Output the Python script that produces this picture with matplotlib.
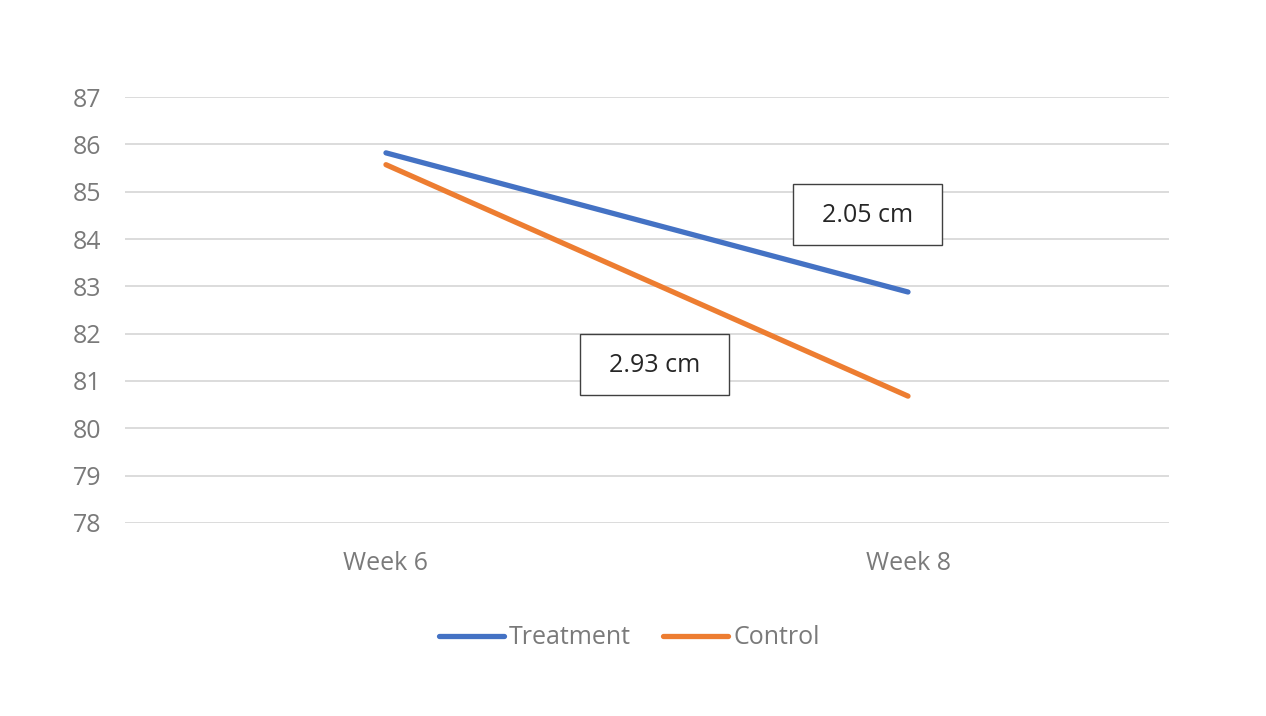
import matplotlib
matplotlib.use("Agg")
import matplotlib.pyplot as plt
from matplotlib.patches import Rectangle

# Datos del gráfico
semanas = ["Week 6", "Week 8"]
tratamiento = [85.82, 82.88]
control = [85.57, 80.68]
etiquetas = ["2.05 cm", "2.93 cm"]

gris = "#7a7a7a"
plt.rcParams['font.family'] = ['Open Sans', 'DejaVu Sans']

fig = plt.figure(figsize=(12.66, 7.16), dpi=100)
ax = fig.add_axes([0.0987, 0.2696, 0.8247, 0.5949])

x = range(len(semanas))
ax.plot(x, tratamiento, color="#4472C4", lw=3.8, label="Treatment", solid_capstyle="round")
ax.plot(x, control, color="#ED7D31", lw=3.8, label="Control", solid_capstyle="round")

ax.set_xlim(-0.5, 1.5)
ax.set_ylim(78, 87)
ax.set_yticks(range(78, 88))
ax.set_xticks(list(x))
ax.set_xticklabels(semanas)
ax.grid(axis="y", color="#d9d9d9", lw=1.3)
ax.set_axisbelow(True)
for s in ax.spines.values():
  s.set_visible(False)
ax.tick_params(length=0, labelsize=18, labelcolor=gris)
ax.tick_params(axis="y", pad=17)
ax.tick_params(axis="x", pad=20)

# Cuadros de texto con las diferencias (coordenadas de figura en píxeles)
cajas = [(793, 184, 149, 61), (580, 334, 149, 61)]
for (px, py, w, h), txt in zip(cajas, etiquetas):
  fig.patches.append(Rectangle((px / 1266, 1 - (py + h) / 716), w / 1266, h / 716,
                               transform=fig.transFigure, fill=True, facecolor="white",
                               edgecolor="#404040", lw=1.0))
  fig.text((px + w / 2) / 1266, 1 - (py + h / 2 + 1) / 716, txt, ha="center", va="center",
           fontsize=18, color="#262626")

leg = fig.legend(loc="center", bbox_to_anchor=(0.497, 1 - 638 / 716), ncol=2, frameon=False,
                 fontsize=18, handlelength=2.6, handletextpad=0.2, columnspacing=1.3)
for t in leg.get_texts():
  t.set_color(gris)
for l in leg.get_lines():
  l.set_solid_capstyle("round")

fig.savefig("out.png", dpi=100)
